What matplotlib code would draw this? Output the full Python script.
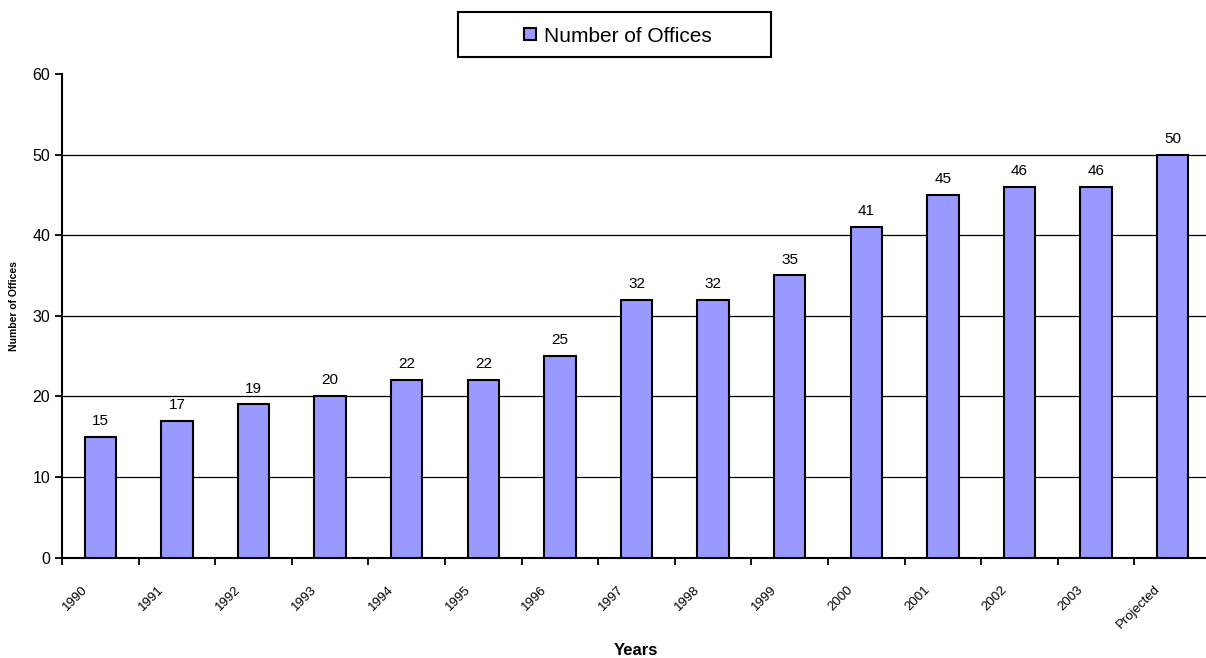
import matplotlib.pyplot as plt
from matplotlib.patches import Rectangle, Patch

plt.rcParams['font.family'] = ['Liberation Sans', 'DejaVu Sans']

years = ["1990", "1991", "1992", "1993", "1994", "1995", "1996", "1997",
         "1998", "1999", "2000", "2001", "2002", "2003", "Projected"]
offices = [15, 17, 19, 20, 22, 22, 25, 32, 32, 35, 41, 45, 46, 46, 50]

bar_color = "#9999FF"

fig = plt.figure(figsize=(12.06, 6.58), dpi=100)
# plot area runs a bit past the right edge, as in the original
ax = fig.add_axes([62 / 1206, 100.5 / 658, 1149 / 1206, 483.5 / 658])

x = list(range(len(years)))
ax.bar(x, offices, width=0.41, color=bar_color, edgecolor="black",
       linewidth=1.5, zorder=3)

for xi, v in zip(x, offices):
    ax.text(xi, v + 1.1, str(v), ha="center", va="bottom", fontsize=11)

ax.set_xlim(-0.5, len(years) - 0.5)
ax.set_ylim(0, 60)
ax.set_yticks(range(0, 61, 10))
for yv in range(10, 60, 10):
    ax.axhline(yv, color="black", linewidth=0.9, zorder=0)
ax.tick_params(axis="y", direction="out", length=5, width=1.3, labelsize=11.5)

# ticks at category boundaries, labels near category centres
ax.set_xticks([i - 0.5 for i in x])
ax.set_xticklabels([])
ax.tick_params(axis="x", direction="out", length=5, width=1.3)
for xi, lab in zip(x, years):
    ax.text(xi - 0.25, -3.2, lab, rotation=45, ha="right", va="top",
            rotation_mode="anchor", fontsize=9.5)

for s in ["top", "right"]:
    ax.spines[s].set_visible(False)
ax.spines["left"].set_linewidth(1.5)
ax.spines["bottom"].set_linewidth(1.5)

fig.text(0.0075, 1 - 306 / 658, "Number of Offices", rotation=90,
         ha="left", va="center", fontsize=7.5, fontweight="bold")
fig.text(636 / 1206, 1 - 655 / 658, "Years", ha="center", va="baseline",
         fontsize=12, fontweight="bold")

# legend box
fig.patches.append(Rectangle((458 / 1206, 1 - 57 / 658), 313 / 1206, 45 / 658,
                             transform=fig.transFigure, facecolor="white",
                             edgecolor="black", linewidth=1.5))
fig.legend(handles=[Patch(facecolor=bar_color, edgecolor="black", linewidth=1.5,
                          label="Number of Offices")],
           loc="center", bbox_to_anchor=(618 / 1206, 1 - 36 / 658),
           frameon=False, fontsize=15, handlelength=0.55, handleheight=0.55,
           handletextpad=0.4)

fig.savefig("out.png", dpi=100)
